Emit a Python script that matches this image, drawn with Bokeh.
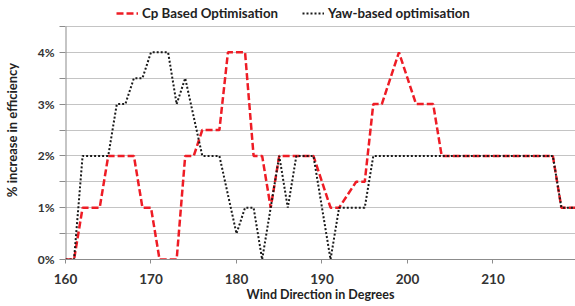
from bokeh.plotting import figure
from bokeh.models import (ColumnDataSource, Range1d, FixedTicker, Legend, LegendItem,
                          CustomJSTickFormatter)
from bokeh.embed import file_html
from bokeh.resources import INLINE

degrees = list(range(160, 221))
cp_based = [0, 0, 1, 1, 1, 2, 2, 2, 2, 1, 1, 0, 0, 0, 2, 2, 2.5, 2.5, 2.5, 4,
            4, 4, 2, 2, 1, 2, 2, 2, 2, 2, 1.5, 1, 1, 1.25, 1.5, 1.5, 3, 3, 3.5, 4,
            3.5, 3, 3, 3, 2, 2, 2, 2, 2, 2, 2, 2, 2, 2, 2, 2, 2, 2, 1, 1, 1]
yaw_based = [0, 0, 2, 2, 2, 2, 3, 3, 3.5, 3.5, 4, 4, 4, 3, 3.5, 2.75, 2, 2, 2, 1.25,
             0.5, 1, 1, 0, 1, 2, 1, 2, 2, 2, 1, 0, 1, 1, 1, 1, 2, 2, 2, 2,
             2, 2, 2, 2, 2, 2, 2, 2, 2, 2, 2, 2, 2, 2, 2, 2, 2, 2, 1, 1, 1]
x_ticks = [160, 170, 180, 190, 200, 210, 220]
y_ticks = [0, 0.5, 1, 1.5, 2, 2.5, 3, 3.5, 4, 4.5]

src = ColumnDataSource(dict(x=degrees, cp=cp_based, yaw=yaw_based))

FONT = "Lato"
AXIS_GREY = "#8c8c8c"
# the frame reaches the top of the page so that the legend (drawn inside it)
# sits above the 4.5% line, like the reference's legend above the plot area
p = figure(width=575, height=306, output_backend="svg", toolbar_location=None,
           x_range=Range1d(160, 219.65), y_range=Range1d(0, 5.0),
           min_border_left=62, min_border_right=0, min_border_top=0,
           min_border_bottom=47)
p.outline_line_color = None
p.background_fill_color = "white"
p.border_fill_color = "white"

p.xgrid.grid_line_color = None
p.ygrid.grid_line_color = "#c4c4c4"
p.ygrid.grid_line_width = 1

p.xaxis.ticker = FixedTicker(ticks=x_ticks)
p.yaxis.ticker = FixedTicker(ticks=y_ticks)
p.yaxis.formatter = CustomJSTickFormatter(code="return Number.isInteger(tick) ? tick + '%' : '';")

for ax in (p.xaxis[0], p.yaxis[0]):
    ax.axis_line_color = AXIS_GREY
    ax.major_tick_line_color = AXIS_GREY
    ax.minor_tick_line_color = None
    ax.major_tick_in = 0
    ax.major_label_text_font = FONT
    ax.major_label_text_font_style = "bold"
    ax.major_label_text_color = "#333333"
    ax.axis_label_text_font = FONT
    ax.axis_label_text_font_style = "bold"
    ax.axis_label_text_color = "#222222"

p.xaxis.major_tick_out = 4
p.xaxis.major_label_text_font_size = "13.5px"
p.xaxis.major_label_standoff = 10
p.xaxis.axis_label = "Wind Direction in Degrees"
p.xaxis.axis_label_text_font_size = "12.5px"
p.xaxis.axis_label_standoff = 0

p.yaxis.axis_line_color = None
p.yaxis.major_tick_out = 6
p.yaxis.major_label_text_font_size = "12px"
p.yaxis.major_label_standoff = 5
p.yaxis.axis_label = "% increase in efficiency"
p.yaxis.axis_label_text_font_size = "13px"
p.yaxis.axis_label_standoff = 15

# left axis line, only up to the top of the value axis
p.segment(x0=[x_ticks[0]], y0=[y_ticks[0]], x1=[x_ticks[0]], y1=[y_ticks[-1]],
          line_color=AXIS_GREY, line_width=2)

r_cp = p.line("x", "cp", source=src, line_color="#ee1c25", line_width=2.5,
              line_dash="7 3")
r_yaw = p.line("x", "yaw", source=src, line_color="#1a1a1a", line_width=2,
               line_dash="2 2")

legend = Legend(items=[LegendItem(label="Cp Based Optimisation", renderers=[r_cp]),
                       LegendItem(label="Yaw-based optimisation", renderers=[r_yaw])],
                orientation="horizontal", location=(51, 237))
legend.label_text_font = FONT
legend.label_text_font_style = "bold"
legend.label_text_font_size = "13.3px"
legend.label_text_color = "#222222"
legend.glyph_width = 22
legend.glyph_height = 18
legend.label_standoff = 4
legend.spacing = 24
legend.padding = 2
legend.margin = 0
legend.border_line_color = None
legend.background_fill_alpha = 0
p.add_layout(legend)

open("out.html", "w").write(file_html(p, INLINE))
